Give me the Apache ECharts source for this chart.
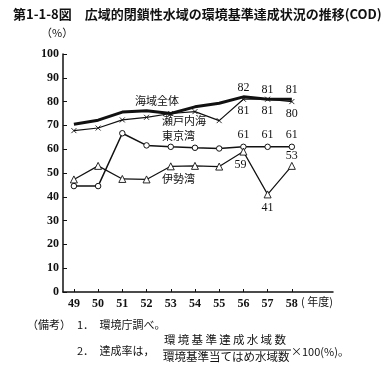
<!DOCTYPE html>
<html><head><meta charset="utf-8">
<script src="https://cdn.jsdelivr.net/npm/echarts@6/dist/echarts.min.js"></script>
<style>html,body{margin:0;padding:0;background:#fff}#c{width:381px;height:379px}</style>
</head><body><div id="c"></div>
<script>
const years = [49, 50, 51, 52, 53, 54, 55, 56, 57, 58];
const yTicks = [0, 10, 20, 30, 40, 50, 60, 70, 80, 90, 100];
const kaiikiZentai = [70.5, 72.2, 75.6, 76.2, 75.0, 77.8, 79.3, 82, 81, 81];
const setoNaikai = [67.8, 68.9, 72.3, 73.4, 75.0, 75.8, 72.0, 81, 81, 80];
const tokyoWan = [44.5, 44.5, 66.7, 61.6, 61.0, 60.6, 60.3, 61, 61, 61];
const iseWan = [47.3, 53.0, 47.5, 47.3, 52.8, 53.0, 52.7, 59, 41, 53];

const serif = '"Liberation Serif","DejaVu Serif",serif';
const cjk = '"Noto Sans CJK JP",sans-serif';

function mk(vals, labelPos, labelIdx, offsets) {
  return vals.map((v, i) => {
    const d = { value: [years[i], v] };
    if (labelIdx.includes(i)) {
      const k = labelIdx.indexOf(i);
      d.label = { show: true, position: labelPos[k], formatter: String(Math.round(v)), distance: 3,
        offset: offsets ? offsets[k] : [0, 0],
        fontFamily: serif, fontSize: 12, color: '#111' };
    }
    return d;
  });
}
const idx = [7, 8, 9];
const chart = echarts.init(document.getElementById('c'), null, { renderer: 'canvas' });
chart.setOption({
  animation: false,
  grid: { left: 63, right: 48, top: 54, bottom: 87 },
  xAxis: {
    type: 'value', min: 48.55, max: 59.7,
    axisLine: { show: true, lineStyle: { color: '#111', width: 1.5 } },
    axisTick: { show: true, inside: true, length: 3, customValues: years, lineStyle: { color: '#111' } },
    axisLabel: { customValues: years, color: '#111', fontFamily: serif, fontSize: 12, fontWeight: 'bold', margin: 6 },
    splitLine: { show: false }
  },
  yAxis: {
    type: 'value', min: 0, max: 100, interval: 10,
    axisLine: { show: true, lineStyle: { color: '#111', width: 1.5 } },
    axisTick: { show: true, inside: true, length: 4, lineStyle: { color: '#111' } },
    axisLabel: { color: '#111', fontFamily: serif, fontSize: 12, fontWeight: 'bold', margin: 4 },
    splitLine: { show: false }
  },
  series: [
    { name: '海域全体', type: 'line', symbol: 'circle', symbolSize: 0.1,
      itemStyle: { color: '#111' }, lineStyle: { color: '#111', width: 3 },
      data: mk(kaiikiZentai, ['top', 'top', 'top'], idx), z: 3 },
    { name: '瀬戸内海', type: 'line', symbol: 'path://M0,0L10,10M10,0L0,10', symbolSize: 5,
      itemStyle: { color: '#111', borderColor: '#111', borderWidth: 0.9 },
      lineStyle: { color: '#111', width: 1.2 },
      data: mk(setoNaikai, ['bottom', 'bottom', 'bottom'], idx) },
    { name: '東京湾', type: 'line', symbol: 'circle', symbolSize: 5.5,
      itemStyle: { color: '#fff', borderColor: '#111', borderWidth: 1 },
      lineStyle: { color: '#111', width: 1.5 },
      data: mk(tokyoWan, ['top', 'top', 'top'], idx) },
    { name: '伊勢湾', type: 'line', symbol: 'triangle', symbolSize: 7,
      itemStyle: { color: '#fff', borderColor: '#111', borderWidth: 0.9 },
      lineStyle: { color: '#111', width: 1.2 },
      data: mk(iseWan, ['bottom', 'bottom', 'top'], idx, [[-3, 0], [0, 0], [0, 3]]) }
  ],
  graphic: [
    { type: 'text', left: 13, top: 8, style: { text: '第1-1-8図　広域的閉鎖性水域の環境基準達成状況の推移(COD)', font: 'bold 13px ' + cjk, fill: '#111' } },
    { type: 'text', left: 41, top: 27, style: { text: '（%）', font: '11px ' + cjk, fill: '#111' } },
    { type: 'text', left: 135, top: 95, style: { text: '海域全体', font: '11px ' + cjk, fill: '#111' } },
    { type: 'text', left: 162, top: 115, style: { text: '瀬戸内海', font: '11px ' + cjk, fill: '#111' } },
    { type: 'text', left: 162, top: 130, style: { text: '東京湾', font: '11px ' + cjk, fill: '#111' } },
    { type: 'text', left: 162, top: 173, style: { text: '伊勢湾', font: '11px ' + cjk, fill: '#111' } },
    { type: 'text', left: 301, top: 296, style: { text: '( 年度)', font: '11px ' + cjk, fill: '#111' } },
    { type: 'text', left: 27, top: 319, style: { text: '（備考）', font: '11px ' + cjk, fill: '#111' } },
    { type: 'text', left: 77, top: 319, style: { text: '1．　環境庁調べ。', font: '11px ' + cjk, fill: '#111' } },
    { type: 'text', left: 77, top: 345, style: { text: '2．　達成率は，', font: '11px ' + cjk, fill: '#111' } },
    { type: 'text', left: 164, top: 334, style: { text: '環\u2009境\u2009基\u2009準\u2009達\u2009成\u2009水\u2009域\u2009数', font: '11.5px ' + cjk, fill: '#111' } },
    { type: 'line', shape: { x1: 163, y1: 350, x2: 291, y2: 350 }, style: { stroke: '#111', lineWidth: 1 } },
    { type: 'text', left: 163, top: 351, style: { text: '環境基準当てはめ水域数', font: '11.5px ' + cjk, fill: '#111' } },
    { type: 'text', left: 291, top: 346, style: { text: '×100(%)。', font: '11px ' + cjk, fill: '#111' } }
  ]
});
</script></body></html>
